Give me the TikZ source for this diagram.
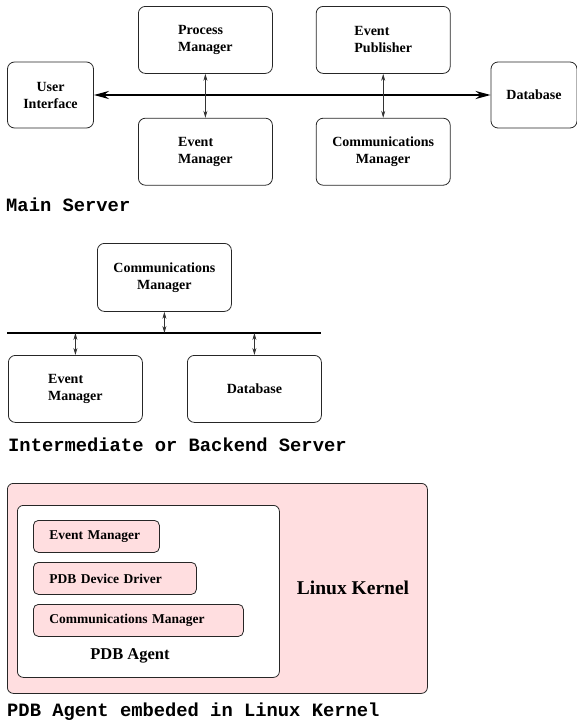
\documentclass[tikz,border=0pt]{standalone}
\usepackage{fontspec}
\setmainfont{Liberation Serif}
\setmonofont{Liberation Mono}
\usetikzlibrary{arrows.meta,positioning}
\definecolor{kernelPink}{HTML}{FFDEE0}

\begin{document}
\begin{tikzpicture}[x=1pt, y=-1pt,
  box/.style={draw=black!85, line width=0.8pt, rounded corners=7pt, minimum width=134pt, minimum height=67pt, inner sep=0pt, font=\fontsize{14}{17}\selectfont\bfseries},
  sidebox/.style={box, minimum width=86pt, minimum height=66pt},
  panel/.style={draw=black!85, line width=0.8pt, rounded corners=6pt, anchor=north west, inner sep=0pt},
  modbox/.style={draw=black!85, line width=0.8pt, fill=kernelPink, rounded corners=5pt, minimum height=32pt, inner xsep=16pt, inner ysep=0pt, anchor=north west, align=left, font=\fontsize{13.5}{16}\selectfont\bfseries},
  heading/.style={anchor=west, inner sep=0pt, font=\fontsize{18.8}{20}\selectfont\ttfamily\bfseries},
  bus/.style={{Stealth[length=15pt,width=8pt,inset=5pt]}-{Stealth[length=15pt,width=8pt,inset=5pt]}, line width=2.4pt},
  link/.style={{Stealth[length=7pt,width=4pt]}-{Stealth[length=7pt,width=4pt]}, line width=0.7pt, black!80},
  node distance=44pt and 43pt
]
\useasboundingbox (0,0) rectangle (577,728);

% Main server
\node[box, align=left, anchor=north west] (pm) at (138,6) {Process\\Manager};
\node[box, align=left, below=of pm] (em) {Event\\Manager};
\node[box, align=left, right=of pm] (ep) {Event\\Publisher};
\node[box, align=center, below=of ep] (cm) {Communications\\Manager};
\node[sidebox, align=center] (ui) at (50.5,95) {User\\Interface};
\node[sidebox, align=center] (db) at (534,95) {Database};

\draw[bus] (ui) -- (db);
\draw[link] (pm) -- (em);
\draw[link] (ep) -- (cm);

\node[heading] (mainLabel) at (6,205) {Main Server};

% Intermediate or backend server
\node[box, align=center, anchor=north west, minimum height=68pt] (cm2) at (97,243) {Communications\\Manager};
\coordinate (busL) at (7,333);
\coordinate (busR) at (321,333);
\node[box, align=left, anchor=north west] (em2) at (8,355) {Event\\Manager};
\node[box, anchor=north west] (db2) at (187,355) {Database};

\draw[line width=2pt] (busL) -- (busR);
\draw[link] (cm2) -- (cm2 |- busL);
\draw[link] (em2.north |- busL) -- (em2);
\draw[link] (db2.north |- busL) -- (db2);

\node[heading] (backLabel) at (8,445) {Intermediate or Backend Server};

% PDB agent in the kernel
\node[panel, fill=kernelPink, minimum width=420pt, minimum height=210pt] (kernel) at (7,483) {};
\node[panel, fill=white, minimum width=262pt, minimum height=172pt] (agent) at (17,505) {};
\node[modbox, text width=94pt] (em3) at (33,520) {Event Manager};
\node[modbox, text width=131pt] (dd) at (33,562) {PDB Device Driver};
\node[modbox, text width=178pt] (cm3) at (33,604) {Communications Manager};
\node[font=\fontsize{16.5}{19}\selectfont\bfseries] (agentLabel) at (130,656) {PDB Agent};
\node[font=\fontsize{19.5}{22}\selectfont\bfseries] (kernelLabel) at (353,588) {Linux Kernel};

\node[heading] (kernLabel) at (7,712) {PDB Agent embeded in Linux Kernel};
\end{tikzpicture}
\end{document}
